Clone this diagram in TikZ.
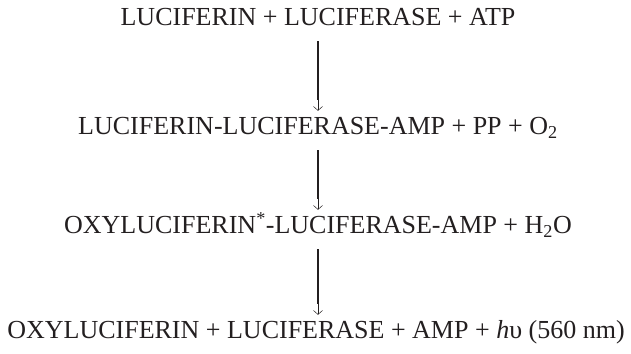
\documentclass[tikz,border=0pt]{standalone}
\usepackage{fontspec}
\setmainfont{Liberation Serif}
\usepackage{xcolor}
\usepackage{tikz}
\usetikzlibrary{positioning, arrows.meta}
\definecolor{ink}{HTML}{231f20}

\begin{document}
\begin{tikzpicture}[x=1pt,y=1pt,rct/.style={anchor=base, inner sep=0pt, text height=17pt, text depth=5pt, font=\fontsize{26}{30}\selectfont, text=ink},rxn/.style={draw=ink, -{Straight Barb[length=4pt,width=9pt]}, line width=0.5pt, shorten <=10pt, shorten >=7pt, preaction={draw=ink, -, line width=1.8pt, shorten >=18pt}}]
\useasboundingbox (0,0) rectangle (631,353);
\node[rct] (luc) at (318,327) {LUCIFERIN + LUCIFERASE + ATP};
\node[rct] (adn) at (318,218) {LUCIFERIN-LUCIFERASE-AMP + PP + O\textsubscript{2}};
\node[rct] (oxy) at (318,119) {OXYLUCIFERIN\textsuperscript{*}-LUCIFERASE-AMP + H\textsubscript{2}O};
\node[rct] (lgt) at (316,14) {OXYLUCIFERIN + LUCIFERASE + AMP + \textit{h}υ (560 nm)};
\draw[rxn] (luc.south) -- (adn.north);
\draw[rxn] (adn.south) -- (oxy.north);
\draw[rxn] (oxy.south) -- (lgt.north -| luc.south);
\end{tikzpicture}
\end{document}
